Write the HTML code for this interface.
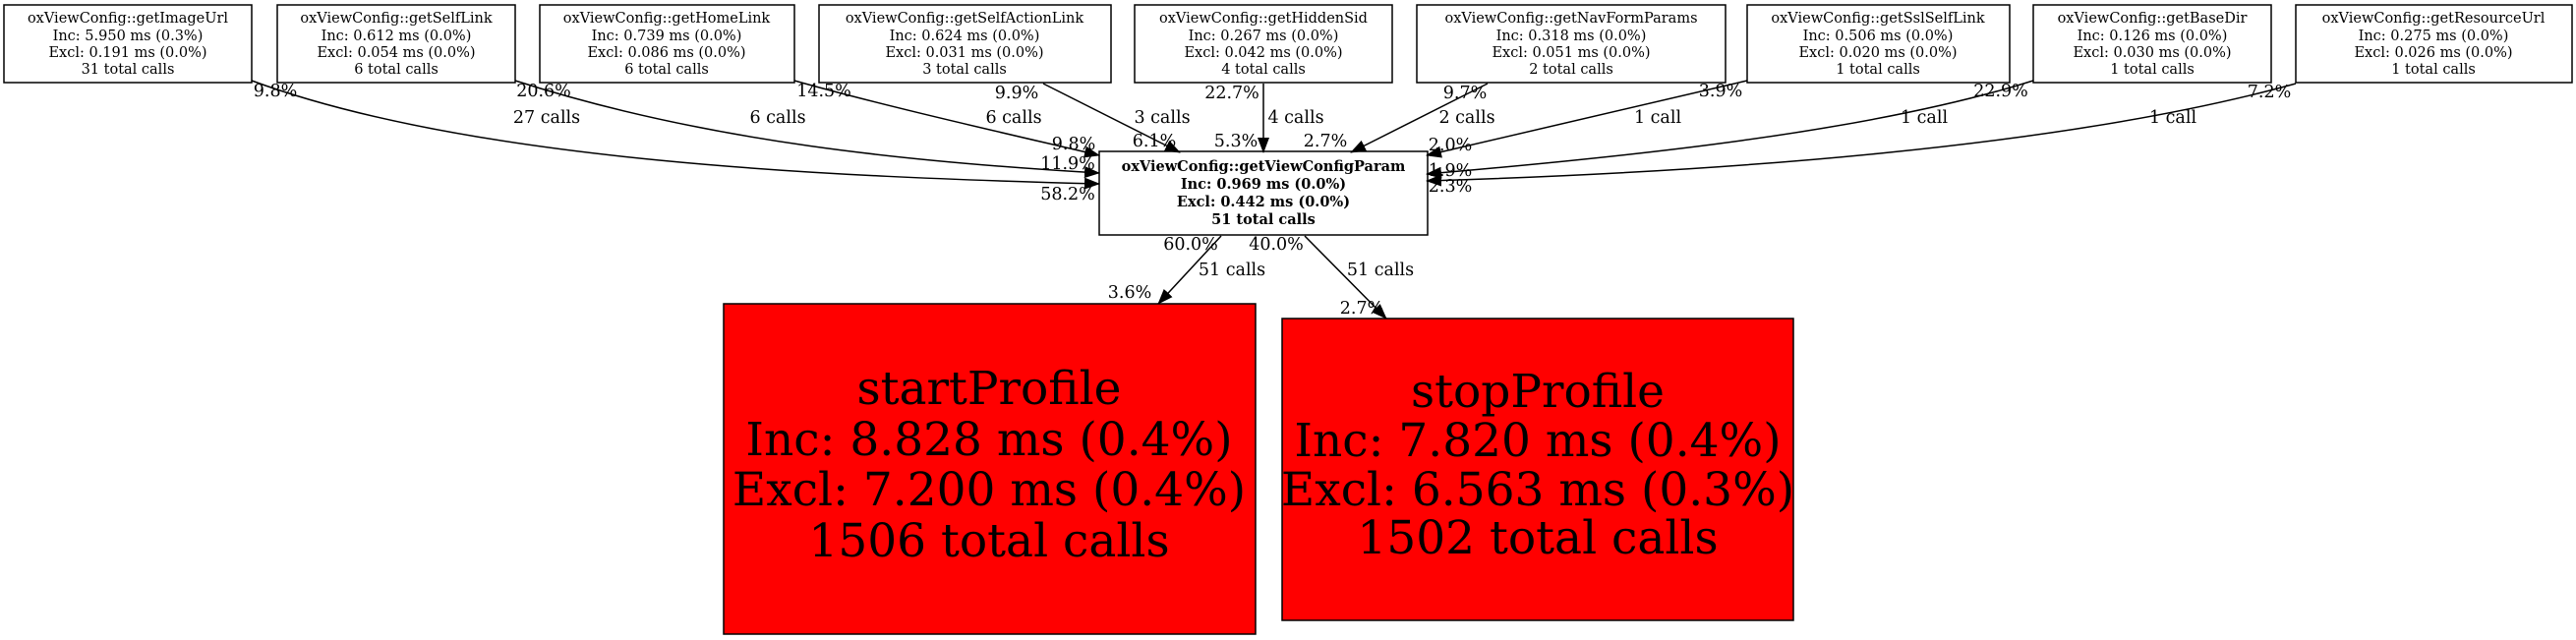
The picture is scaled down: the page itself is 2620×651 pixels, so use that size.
<!DOCTYPE html>
<html><head><meta charset="utf-8"><style>
html,body{margin:0;padding:0;background:#fff;}
svg{display:block;}
.n{font-family:"DejaVu Serif","Liberation Serif",serif;font-size:14.5px;text-anchor:middle;fill:#000;}
.b{font-weight:bold;}
.e{font-family:"DejaVu Serif","Liberation Serif",serif;font-size:17.5px;text-anchor:middle;fill:#000;}
.big{font-family:"DejaVu Serif","Liberation Serif",serif;font-size:47px;text-anchor:middle;fill:#000;}
.bx{fill:#fff;stroke:#000;stroke-width:1.5;}
.ed{fill:none;stroke:#000;stroke-width:1.5;}
</style></head><body>
<svg width="2620" height="651" viewBox="0 0 2620 651" xmlns="http://www.w3.org/2000/svg">
<defs><marker id="a" markerWidth="16" markerHeight="12" refX="15" refY="6" orient="auto" markerUnits="userSpaceOnUse"><path d="M0,0 L16,6 L0,12 z" fill="#000"/></marker></defs>

<rect class="bx" x="4" y="5" width="252" height="79"/>
<text class="n" x="130" y="23">oxViewConfig::getImageUrl</text><text class="n" x="130" y="41">Inc: 5.950 ms (0.3%)</text><text class="n" x="130" y="58">Excl: 0.191 ms (0.0%)</text><text class="n" x="130" y="75">31 total calls</text>

<rect class="bx" x="282" y="5" width="242" height="79"/>
<text class="n" x="403" y="23">oxViewConfig::getSelfLink</text><text class="n" x="403" y="41">Inc: 0.612 ms (0.0%)</text><text class="n" x="403" y="58">Excl: 0.054 ms (0.0%)</text><text class="n" x="403" y="75">6 total calls</text>

<rect class="bx" x="549" y="5" width="259" height="79"/>
<text class="n" x="678" y="23">oxViewConfig::getHomeLink</text><text class="n" x="678" y="41">Inc: 0.739 ms (0.0%)</text><text class="n" x="678" y="58">Excl: 0.086 ms (0.0%)</text><text class="n" x="678" y="75">6 total calls</text>

<rect class="bx" x="833" y="5" width="297" height="79"/>
<text class="n" x="981" y="23">oxViewConfig::getSelfActionLink</text><text class="n" x="981" y="41">Inc: 0.624 ms (0.0%)</text><text class="n" x="981" y="58">Excl: 0.031 ms (0.0%)</text><text class="n" x="981" y="75">3 total calls</text>

<rect class="bx" x="1154" y="5" width="262" height="79"/>
<text class="n" x="1285" y="23">oxViewConfig::getHiddenSid</text><text class="n" x="1285" y="41">Inc: 0.267 ms (0.0%)</text><text class="n" x="1285" y="58">Excl: 0.042 ms (0.0%)</text><text class="n" x="1285" y="75">4 total calls</text>

<rect class="bx" x="1441" y="5" width="314" height="79"/>
<text class="n" x="1598" y="23">oxViewConfig::getNavFormParams</text><text class="n" x="1598" y="41">Inc: 0.318 ms (0.0%)</text><text class="n" x="1598" y="58">Excl: 0.051 ms (0.0%)</text><text class="n" x="1598" y="75">2 total calls</text>

<rect class="bx" x="1777" y="5" width="267" height="79"/>
<text class="n" x="1910" y="23">oxViewConfig::getSslSelfLink</text><text class="n" x="1910" y="41">Inc: 0.506 ms (0.0%)</text><text class="n" x="1910" y="58">Excl: 0.020 ms (0.0%)</text><text class="n" x="1910" y="75">1 total calls</text>

<rect class="bx" x="2068" y="5" width="242" height="79"/>
<text class="n" x="2189" y="23">oxViewConfig::getBaseDir</text><text class="n" x="2189" y="41">Inc: 0.126 ms (0.0%)</text><text class="n" x="2189" y="58">Excl: 0.030 ms (0.0%)</text><text class="n" x="2189" y="75">1 total calls</text>

<rect class="bx" x="2335" y="5" width="281" height="79"/>
<text class="n" x="2475" y="23">oxViewConfig::getResourceUrl</text><text class="n" x="2475" y="41">Inc: 0.275 ms (0.0%)</text><text class="n" x="2475" y="58">Excl: 0.026 ms (0.0%)</text><text class="n" x="2475" y="75">1 total calls</text>

<rect class="bx" x="1118" y="154" width="334" height="85"/>
<text class="n b" x="1285" y="174">oxViewConfig::getViewConfigParam</text>
<text class="n b" x="1285" y="192">Inc: 0.969 ms (0.0%)</text>
<text class="n b" x="1285" y="210">Excl: 0.442 ms (0.0%)</text>
<text class="n b" x="1285" y="228">51 total calls</text>

<rect x="736" y="309" width="541" height="336" fill="#ff0000" stroke="#000" stroke-width="1.5"/>
<text class="big" x="1006" y="411">startProfile</text>
<text class="big" x="1006" y="463">Inc: 8.828 ms (0.4%)</text>
<text class="big" x="1006" y="514">Excl: 7.200 ms (0.4%)</text>
<text class="big" x="1006" y="566">1506 total calls</text>

<rect x="1304" y="324" width="520" height="307" fill="#ff0000" stroke="#000" stroke-width="1.5"/>
<text class="big" x="1564" y="414">stopProfile</text>
<text class="big" x="1564" y="464">Inc: 7.820 ms (0.4%)</text>
<text class="big" x="1564" y="514">Excl: 6.563 ms (0.3%)</text>
<text class="big" x="1564" y="563">1502 total calls</text>

<path class="ed" marker-end="url(#a)" d="M256,82 C480,165 850,180 1118,187"/>
<path class="ed" marker-end="url(#a)" d="M524,82 C720,145 930,165 1118,176"/>
<path class="ed" marker-end="url(#a)" d="M808,82 C900,108 1020,135 1118,158"/>
<path class="ed" marker-end="url(#a)" d="M1061,85 L1200,155"/>
<path class="ed" marker-end="url(#a)" d="M1285,85 L1285,155"/>
<path class="ed" marker-end="url(#a)" d="M1513,85 L1374,155"/>
<path class="ed" marker-end="url(#a)" d="M1777,82 L1451,158"/>
<path class="ed" marker-end="url(#a)" d="M2068,82 C1900,135 1650,160 1451,177"/>
<path class="ed" marker-end="url(#a)" d="M2335,85 C2100,150 1750,175 1451,184"/>
<path class="ed" marker-end="url(#a)" d="M1242,240 L1178,309"/>
<path class="ed" marker-end="url(#a)" d="M1327,240 L1410,324"/>

<text class="e" x="280" y="98">9.8%</text>
<text class="e" x="556" y="125">27 calls</text>
<text class="e" x="553" y="98">20.6%</text>
<text class="e" x="791" y="125">6 calls</text>
<text class="e" x="838" y="98">14.5%</text>
<text class="e" x="1031" y="125">6 calls</text>
<text class="e" x="1034" y="100">9.9%</text>
<text class="e" x="1182" y="125">3 calls</text>
<text class="e" x="1253" y="100">22.7%</text>
<text class="e" x="1318" y="125">4 calls</text>
<text class="e" x="1092" y="152">9.8%</text>
<text class="e" x="1174" y="149">6.1%</text>
<text class="e" x="1257" y="149">5.3%</text>
<text class="e" x="1086" y="172">11.9%</text>
<text class="e" x="1086" y="203">58.2%</text>
<text class="e" x="1490" y="100">9.7%</text>
<text class="e" x="1492" y="125">2 calls</text>
<text class="e" x="1348" y="149">2.7%</text>
<text class="e" x="1750" y="98">3.9%</text>
<text class="e" x="1686" y="125">1 call</text>
<text class="e" x="1475" y="153">2.0%</text>
<text class="e" x="2035" y="98">22.9%</text>
<text class="e" x="1957" y="125">1 call</text>
<text class="e" x="1475" y="179">1.9%</text>
<text class="e" x="2308" y="99">7.2%</text>
<text class="e" x="2210" y="125">1 call</text>
<text class="e" x="1475" y="195">2.3%</text>
<text class="e" x="1211" y="254">60.0%</text>
<text class="e" x="1298" y="254">40.0%</text>
<text class="e" x="1253" y="280">51 calls</text>
<text class="e" x="1404" y="280">51 calls</text>
<text class="e" x="1149" y="303">3.6%</text>
<text class="e" x="1385" y="319">2.7%</text>
</svg>
</body></html>
